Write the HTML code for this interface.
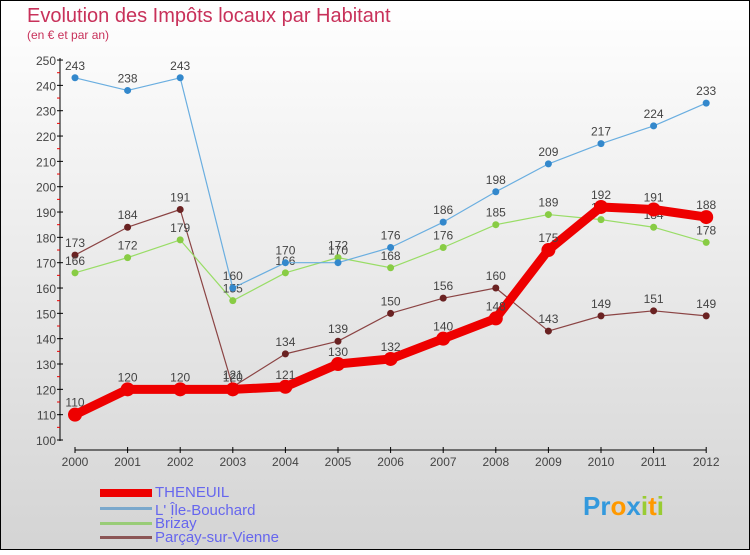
<!DOCTYPE html>
<html><head><meta charset="utf-8"><style>
body{margin:0;width:750px;height:550px;overflow:hidden;font-family:"Liberation Sans",sans-serif}
</style></head><body>
<svg width="750" height="550" xmlns="http://www.w3.org/2000/svg">
<defs><linearGradient id="bg" x1="0" y1="0" x2="0" y2="1"><stop offset="0" stop-color="#ffffff"/><stop offset="1" stop-color="#d4d4d4"/></linearGradient></defs>
<rect x="0.5" y="0.5" width="749" height="549" fill="url(#bg)" stroke="#000"/>
<text x="27" y="22" font-size="20" fill="#c8315a">Evolution des Impôts locaux par Habitant</text>
<text x="27" y="39" font-size="12" fill="#c8315a">(en € et par an)</text>
<g id="axes"></g><g id="series"></g>
<g>
<rect x="100" y="489" width="52" height="8" fill="#e00"/>
<text x="155" y="497" font-size="15" fill="#6666ee">THENEUIL</text>
<rect x="100" y="507" width="52" height="3" fill="#7aa8cc"/>
<text x="155" y="515" font-size="15" fill="#6666ee">L' Île-Bouchard</text>
<rect x="100" y="522" width="52" height="3" fill="#99cc77"/>
<text x="155" y="528" font-size="15" fill="#6666ee">Brizay</text>
<rect x="100" y="536" width="52" height="3" fill="#8b5555"/>
<text x="155" y="542" font-size="15" fill="#6666ee">Parçay-sur-Vienne</text>
</g>
<g font-size="26" font-weight="bold">
<text x="583" y="515"><tspan fill="#3399dd">Pr</tspan><tspan fill="#ff9900">o</tspan><tspan fill="#3399dd">x</tspan><tspan fill="#99cc33">i</tspan><tspan fill="#ff9900">t</tspan><tspan fill="#99cc33">i</tspan></text>
</g>
</svg>
<script>
const years=["2000","2001","2002","2003","2004","2005","2006","2007","2008","2009","2010","2011","2012"];
const yTicks=[100,110,120,130,140,150,160,170,180,190,200,210,220,230,240,250];
const theneuil=[110,120,120,120,121,130,132,140,148,175,192,191,188];
const ileBouchard=[243,238,243,160,170,170,176,186,198,209,217,224,233];
const brizay=[166,172,179,155,166,172,168,176,185,189,187,184,178];
const parcay=[173,184,191,121,134,139,150,156,160,143,149,151,149];
const NS="http://www.w3.org/2000/svg";
const X=i=>75+i*52.6, Y=v=>440-(v-100)*2.533;
function mk(t,a,p){const e=document.createElementNS(NS,t);for(const k in a)e.setAttribute(k,a[k]);p.appendChild(e);return e;}
const ax=document.getElementById('axes');
let l=mk('line',{x1:60,y1:58,x2:60,y2:441,stroke:'#000'},ax);


l=mk('line',{x1:75,y1:450,x2:706,y2:450,stroke:'#000'},ax);


yTicks.forEach(v=>{mk('line',{x1:57,y1:Y(v),x2:63,y2:Y(v),stroke:'#000'},ax);
 if(v<250)mk('line',{x1:57,y1:Y(v+5),x2:60,y2:Y(v+5),stroke:'#e00'},ax);
 const t=mk('text',{x:56,y:Y(v)+5,'font-size':12,'text-anchor':'end',fill:'#444'},ax);t.textContent=v;
 
 });
years.forEach((y,i)=>{mk('line',{x1:X(i),y1:447,x2:X(i),y2:453,stroke:'#000'},ax);
 const t=mk('text',{x:X(i),y:466,'font-size':12,'text-anchor':'middle',fill:'#444'},ax);t.textContent=y;
 
 });
const sg=document.getElementById('series');
function draw(data,name,color,w,r,dot){
 const g=mk('g',{},sg);
 
 
 mk('polyline',{points:data.map((v,i)=>X(i)+','+Y(v)).join(' '),fill:'none',stroke:color,'stroke-width':w,'stroke-linejoin':'round'},g);
 data.forEach((v,i)=>{const c=mk('circle',{cx:X(i),cy:Y(v),r:r,fill:dot},g);
  
  
  const t=mk('text',{x:X(i),y:Y(v)-8,'font-size':12,'text-anchor':'middle',fill:'#444'},g);t.textContent=v;
  
  });
}
draw(parcay,'parcay','#8b4444',1.2,3.5,'#6a2222');
draw(brizay,'brizay','#99dd66',1.2,3.5,'#88cc44');
draw(ileBouchard,'ile-bouchard','#6aaee0',1.2,3.5,'#3388cc');
draw(theneuil,'theneuil','#ee0000',9,7,'#ee0000');
</script>
</body></html>
